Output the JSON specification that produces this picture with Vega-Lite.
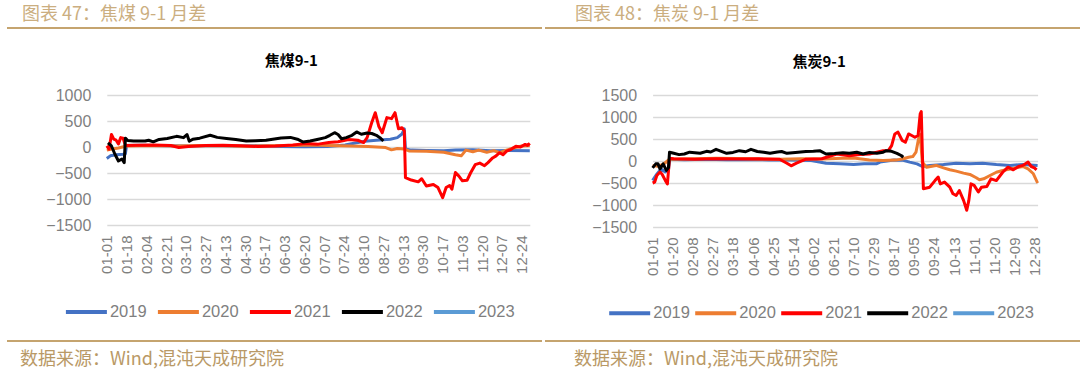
{
  "$schema": "https://vega.github.io/schema/vega-lite/v6.json",
  "background": "white",
  "padding": {"left": 7, "top": 5, "right": 0, "bottom": 0},
  "spacing": 12,
  "datasets": {
    "coal": [
      {"year":"2019","date":"2019-01-01","value":-220},{"year":"2019","date":"2019-01-04","value":-170},{"year":"2019","date":"2019-01-09","value":-150},{"year":"2019","date":"2019-01-15","value":-140},{"year":"2019","date":"2019-01-17","value":-130},{"year":"2019","date":"2019-01-18","value":30},{"year":"2019","date":"2019-01-31","value":35},{"year":"2019","date":"2019-02-20","value":25},{"year":"2019","date":"2019-03-12","value":20},{"year":"2019","date":"2019-04-01","value":30},{"year":"2019","date":"2019-04-21","value":20},{"year":"2019","date":"2019-05-11","value":25},{"year":"2019","date":"2019-05-31","value":10},{"year":"2019","date":"2019-06-20","value":5},{"year":"2019","date":"2019-07-10","value":10},{"year":"2019","date":"2019-07-25","value":40},{"year":"2019","date":"2019-08-04","value":80},{"year":"2019","date":"2019-08-11","value":110},{"year":"2019","date":"2019-08-21","value":130},{"year":"2019","date":"2019-09-02","value":150},{"year":"2019","date":"2019-09-08","value":180},{"year":"2019","date":"2019-09-12","value":250},{"year":"2019","date":"2019-09-14","value":350},{"year":"2019","date":"2019-09-15","value":-40},{"year":"2019","date":"2019-09-20","value":-60},{"year":"2019","date":"2019-10-03","value":-65},{"year":"2019","date":"2019-10-18","value":-70},{"year":"2019","date":"2019-10-28","value":-60},{"year":"2019","date":"2019-11-12","value":-55},{"year":"2019","date":"2019-11-27","value":-70},{"year":"2019","date":"2019-12-12","value":-65},{"year":"2019","date":"2019-12-31","value":-70},
      {"year":"2020","date":"2019-01-01","value":-60},{"year":"2020","date":"2019-01-06","value":-40},{"year":"2020","date":"2019-01-11","value":-20},{"year":"2020","date":"2019-01-18","value":20},{"year":"2020","date":"2019-02-10","value":30},{"year":"2020","date":"2019-03-02","value":20},{"year":"2020","date":"2019-03-22","value":30},{"year":"2020","date":"2019-04-11","value":25},{"year":"2020","date":"2019-05-01","value":15},{"year":"2020","date":"2019-05-21","value":25},{"year":"2020","date":"2019-06-10","value":30},{"year":"2020","date":"2019-06-25","value":40},{"year":"2020","date":"2019-07-10","value":30},{"year":"2020","date":"2019-07-30","value":20},{"year":"2020","date":"2019-08-14","value":10},{"year":"2020","date":"2019-08-29","value":-10},{"year":"2020","date":"2019-09-03","value":-55},{"year":"2020","date":"2019-09-08","value":-30},{"year":"2020","date":"2019-09-14","value":-40},{"year":"2020","date":"2019-09-18","value":-75},{"year":"2020","date":"2019-10-03","value":-80},{"year":"2020","date":"2019-10-18","value":-100},{"year":"2020","date":"2019-10-28","value":-150},{"year":"2020","date":"2019-11-02","value":-170},{"year":"2020","date":"2019-11-06","value":-60},{"year":"2020","date":"2019-11-12","value":-90},{"year":"2020","date":"2019-11-17","value":-60},{"year":"2020","date":"2019-11-24","value":-100},{"year":"2020","date":"2019-11-30","value":-70},{"year":"2020","date":"2019-12-05","value":-110},{"year":"2020","date":"2019-12-11","value":-60},{"year":"2020","date":"2019-12-17","value":-20},{"year":"2020","date":"2019-12-24","value":20},{"year":"2020","date":"2019-12-31","value":30},
      {"year":"2021","date":"2019-01-01","value":20},{"year":"2021","date":"2019-01-03","value":-40},{"year":"2021","date":"2019-01-05","value":240},{"year":"2021","date":"2019-01-07","value":150},{"year":"2021","date":"2019-01-09","value":130},{"year":"2021","date":"2019-01-11","value":60},{"year":"2021","date":"2019-01-13","value":180},{"year":"2021","date":"2019-01-15","value":170},{"year":"2021","date":"2019-01-17","value":30},{"year":"2021","date":"2019-01-26","value":35},{"year":"2021","date":"2019-02-10","value":40},{"year":"2021","date":"2019-02-25","value":30},{"year":"2021","date":"2019-03-04","value":-10},{"year":"2021","date":"2019-03-12","value":10},{"year":"2021","date":"2019-03-27","value":30},{"year":"2021","date":"2019-04-11","value":35},{"year":"2021","date":"2019-04-26","value":25},{"year":"2021","date":"2019-05-11","value":10},{"year":"2021","date":"2019-05-26","value":20},{"year":"2021","date":"2019-06-10","value":40},{"year":"2021","date":"2019-06-21","value":65},{"year":"2021","date":"2019-07-02","value":55},{"year":"2021","date":"2019-07-11","value":85},{"year":"2021","date":"2019-07-19","value":100},{"year":"2021","date":"2019-07-28","value":145},{"year":"2021","date":"2019-08-05","value":130},{"year":"2021","date":"2019-08-10","value":85},{"year":"2021","date":"2019-08-13","value":180},{"year":"2021","date":"2019-08-17","value":470},{"year":"2021","date":"2019-08-20","value":660},{"year":"2021","date":"2019-08-23","value":400},{"year":"2021","date":"2019-08-26","value":275},{"year":"2021","date":"2019-08-30","value":565},{"year":"2021","date":"2019-09-03","value":545},{"year":"2021","date":"2019-09-06","value":660},{"year":"2021","date":"2019-09-09","value":350},{"year":"2021","date":"2019-09-12","value":370},{"year":"2021","date":"2019-09-14","value":310},{"year":"2021","date":"2019-09-15","value":-590},{"year":"2021","date":"2019-09-20","value":-635},{"year":"2021","date":"2019-09-26","value":-670},{"year":"2021","date":"2019-09-29","value":-610},{"year":"2021","date":"2019-10-03","value":-750},{"year":"2021","date":"2019-10-09","value":-720},{"year":"2021","date":"2019-10-13","value":-780},{"year":"2021","date":"2019-10-17","value":-975},{"year":"2021","date":"2019-10-20","value":-780},{"year":"2021","date":"2019-10-23","value":-740},{"year":"2021","date":"2019-10-25","value":-810},{"year":"2021","date":"2019-10-28","value":-490},{"year":"2021","date":"2019-10-31","value":-560},{"year":"2021","date":"2019-11-03","value":-650},{"year":"2021","date":"2019-11-07","value":-640},{"year":"2021","date":"2019-11-10","value":-500},{"year":"2021","date":"2019-11-14","value":-340},{"year":"2021","date":"2019-11-18","value":-310},{"year":"2021","date":"2019-11-22","value":-360},{"year":"2021","date":"2019-11-25","value":-300},{"year":"2021","date":"2019-11-29","value":-210},{"year":"2021","date":"2019-12-02","value":-170},{"year":"2021","date":"2019-12-05","value":-110},{"year":"2021","date":"2019-12-08","value":-150},{"year":"2021","date":"2019-12-11","value":-80},{"year":"2021","date":"2019-12-15","value":-45},{"year":"2021","date":"2019-12-19","value":15},{"year":"2021","date":"2019-12-23","value":0},{"year":"2021","date":"2019-12-27","value":50},{"year":"2021","date":"2019-12-29","value":30},{"year":"2021","date":"2019-12-31","value":70},
      {"year":"2022","date":"2019-01-02","value":80},{"year":"2022","date":"2019-01-05","value":20},{"year":"2022","date":"2019-01-08","value":-140},{"year":"2022","date":"2019-01-11","value":-270},{"year":"2022","date":"2019-01-14","value":-230},{"year":"2022","date":"2019-01-16","value":-300},{"year":"2022","date":"2019-01-17","value":170},{"year":"2022","date":"2019-01-19","value":125},{"year":"2022","date":"2019-01-24","value":115},{"year":"2022","date":"2019-02-03","value":115},{"year":"2022","date":"2019-02-06","value":130},{"year":"2022","date":"2019-02-10","value":100},{"year":"2022","date":"2019-02-15","value":145},{"year":"2022","date":"2019-02-22","value":165},{"year":"2022","date":"2019-03-02","value":205},{"year":"2022","date":"2019-03-08","value":180},{"year":"2022","date":"2019-03-11","value":240},{"year":"2022","date":"2019-03-13","value":110},{"year":"2022","date":"2019-03-16","value":150},{"year":"2022","date":"2019-03-22","value":170},{"year":"2022","date":"2019-03-31","value":225},{"year":"2022","date":"2019-04-06","value":185},{"year":"2022","date":"2019-04-14","value":165},{"year":"2022","date":"2019-04-22","value":145},{"year":"2022","date":"2019-05-01","value":115},{"year":"2022","date":"2019-05-09","value":120},{"year":"2022","date":"2019-05-18","value":130},{"year":"2022","date":"2019-05-31","value":175},{"year":"2022","date":"2019-06-08","value":185},{"year":"2022","date":"2019-06-14","value":150},{"year":"2022","date":"2019-06-19","value":95},{"year":"2022","date":"2019-06-25","value":115},{"year":"2022","date":"2019-07-02","value":150},{"year":"2022","date":"2019-07-08","value":180},{"year":"2022","date":"2019-07-12","value":225},{"year":"2022","date":"2019-07-16","value":275},{"year":"2022","date":"2019-07-19","value":240},{"year":"2022","date":"2019-07-22","value":160},{"year":"2022","date":"2019-07-26","value":180},{"year":"2022","date":"2019-07-31","value":225},{"year":"2022","date":"2019-08-04","value":290},{"year":"2022","date":"2019-08-08","value":245},{"year":"2022","date":"2019-08-13","value":270},{"year":"2022","date":"2019-08-17","value":260},{"year":"2022","date":"2019-08-21","value":225},{"year":"2022","date":"2019-08-24","value":180},{"year":"2022","date":"2019-08-27","value":115}
    ],
    "coke": [
      {"year":"2019","date":"2019-01-01","value":-440},{"year":"2019","date":"2019-01-05","value":-300},{"year":"2019","date":"2019-01-09","value":-180},{"year":"2019","date":"2019-01-13","value":-250},{"year":"2019","date":"2019-01-16","value":-200},{"year":"2019","date":"2019-01-17","value":40},{"year":"2019","date":"2019-01-31","value":30},{"year":"2019","date":"2019-02-20","value":40},{"year":"2019","date":"2019-03-12","value":30},{"year":"2019","date":"2019-04-01","value":35},{"year":"2019","date":"2019-04-21","value":25},{"year":"2019","date":"2019-05-11","value":20},{"year":"2019","date":"2019-05-31","value":10},{"year":"2019","date":"2019-06-14","value":-50},{"year":"2019","date":"2019-06-27","value":-65},{"year":"2019","date":"2019-07-10","value":-80},{"year":"2019","date":"2019-07-20","value":-65},{"year":"2019","date":"2019-08-01","value":-60},{"year":"2019","date":"2019-08-04","value":-25},{"year":"2019","date":"2019-08-17","value":25},{"year":"2019","date":"2019-08-26","value":15},{"year":"2019","date":"2019-09-01","value":-25},{"year":"2019","date":"2019-09-08","value":-65},{"year":"2019","date":"2019-09-13","value":-125},{"year":"2019","date":"2019-09-20","value":-100},{"year":"2019","date":"2019-10-03","value":-80},{"year":"2019","date":"2019-10-15","value":-50},{"year":"2019","date":"2019-10-28","value":-65},{"year":"2019","date":"2019-11-09","value":-50},{"year":"2019","date":"2019-11-22","value":-80},{"year":"2019","date":"2019-12-05","value":-100},{"year":"2019","date":"2019-12-17","value":-80},{"year":"2019","date":"2019-12-31","value":-100},
      {"year":"2020","date":"2019-01-01","value":-100},{"year":"2020","date":"2019-01-06","value":-120},{"year":"2020","date":"2019-01-11","value":-80},{"year":"2020","date":"2019-01-17","value":40},{"year":"2020","date":"2019-02-10","value":50},{"year":"2020","date":"2019-03-02","value":60},{"year":"2020","date":"2019-03-22","value":55},{"year":"2020","date":"2019-04-11","value":45},{"year":"2020","date":"2019-05-01","value":40},{"year":"2020","date":"2019-05-21","value":50},{"year":"2020","date":"2019-06-10","value":45},{"year":"2020","date":"2019-06-30","value":60},{"year":"2020","date":"2019-07-10","value":70},{"year":"2020","date":"2019-07-25","value":25},{"year":"2020","date":"2019-08-07","value":10},{"year":"2020","date":"2019-08-19","value":20},{"year":"2020","date":"2019-08-26","value":50},{"year":"2020","date":"2019-08-31","value":85},{"year":"2020","date":"2019-09-04","value":100},{"year":"2020","date":"2019-09-07","value":200},{"year":"2020","date":"2019-09-09","value":450},{"year":"2020","date":"2019-09-10","value":550},{"year":"2020","date":"2019-09-11","value":600},{"year":"2020","date":"2019-09-13","value":-30},{"year":"2020","date":"2019-09-17","value":-140},{"year":"2020","date":"2019-09-26","value":-100},{"year":"2020","date":"2019-10-03","value":-155},{"year":"2020","date":"2019-10-09","value":-200},{"year":"2020","date":"2019-10-15","value":-230},{"year":"2020","date":"2019-10-22","value":-275},{"year":"2020","date":"2019-10-28","value":-305},{"year":"2020","date":"2019-11-03","value":-380},{"year":"2020","date":"2019-11-06","value":-425},{"year":"2020","date":"2019-11-10","value":-405},{"year":"2020","date":"2019-11-16","value":-330},{"year":"2020","date":"2019-11-22","value":-255},{"year":"2020","date":"2019-11-28","value":-215},{"year":"2020","date":"2019-12-05","value":-180},{"year":"2020","date":"2019-12-11","value":-155},{"year":"2020","date":"2019-12-17","value":-125},{"year":"2020","date":"2019-12-22","value":-180},{"year":"2020","date":"2019-12-27","value":-290},{"year":"2020","date":"2019-12-31","value":-500},
      {"year":"2021","date":"2019-01-01","value":-500},{"year":"2021","date":"2019-01-03","value":-480},{"year":"2021","date":"2019-01-05","value":-330},{"year":"2021","date":"2019-01-08","value":-250},{"year":"2021","date":"2019-01-10","value":-300},{"year":"2021","date":"2019-01-13","value":-440},{"year":"2021","date":"2019-01-15","value":-520},{"year":"2021","date":"2019-01-17","value":60},{"year":"2021","date":"2019-01-21","value":50},{"year":"2021","date":"2019-02-10","value":40},{"year":"2021","date":"2019-03-02","value":50},{"year":"2021","date":"2019-03-22","value":45},{"year":"2021","date":"2019-04-11","value":50},{"year":"2021","date":"2019-05-01","value":40},{"year":"2021","date":"2019-05-08","value":-50},{"year":"2021","date":"2019-05-12","value":-110},{"year":"2021","date":"2019-05-17","value":-50},{"year":"2021","date":"2019-05-26","value":40},{"year":"2021","date":"2019-06-10","value":50},{"year":"2021","date":"2019-06-24","value":160},{"year":"2021","date":"2019-07-06","value":120},{"year":"2021","date":"2019-07-16","value":145},{"year":"2021","date":"2019-07-25","value":160},{"year":"2021","date":"2019-08-01","value":200},{"year":"2021","date":"2019-08-07","value":235},{"year":"2021","date":"2019-08-12","value":240},{"year":"2021","date":"2019-08-15","value":350},{"year":"2021","date":"2019-08-18","value":615},{"year":"2021","date":"2019-08-21","value":655},{"year":"2021","date":"2019-08-25","value":465},{"year":"2021","date":"2019-08-28","value":425},{"year":"2021","date":"2019-08-31","value":615},{"year":"2021","date":"2019-09-03","value":580},{"year":"2021","date":"2019-09-06","value":540},{"year":"2021","date":"2019-09-09","value":580},{"year":"2021","date":"2019-09-11","value":1070},{"year":"2021","date":"2019-09-12","value":1125},{"year":"2021","date":"2019-09-14","value":-630},{"year":"2021","date":"2019-09-20","value":-595},{"year":"2021","date":"2019-09-25","value":-445},{"year":"2021","date":"2019-09-28","value":-365},{"year":"2021","date":"2019-09-30","value":-520},{"year":"2021","date":"2019-10-04","value":-480},{"year":"2021","date":"2019-10-09","value":-595},{"year":"2021","date":"2019-10-12","value":-745},{"year":"2021","date":"2019-10-15","value":-785},{"year":"2021","date":"2019-10-18","value":-670},{"year":"2021","date":"2019-10-22","value":-895},{"year":"2021","date":"2019-10-25","value":-1120},{"year":"2021","date":"2019-10-27","value":-895},{"year":"2021","date":"2019-10-29","value":-520},{"year":"2021","date":"2019-11-01","value":-555},{"year":"2021","date":"2019-11-05","value":-705},{"year":"2021","date":"2019-11-08","value":-595},{"year":"2021","date":"2019-11-13","value":-580},{"year":"2021","date":"2019-11-17","value":-405},{"year":"2021","date":"2019-11-22","value":-445},{"year":"2021","date":"2019-11-28","value":-255},{"year":"2021","date":"2019-12-03","value":-140},{"year":"2021","date":"2019-12-08","value":-200},{"year":"2021","date":"2019-12-13","value":-125},{"year":"2021","date":"2019-12-17","value":-100},{"year":"2021","date":"2019-12-22","value":-25},{"year":"2021","date":"2019-12-25","value":-125},{"year":"2021","date":"2019-12-28","value":-155},{"year":"2021","date":"2019-12-30","value":-200},
      {"year":"2022","date":"2019-01-01","value":-155},{"year":"2022","date":"2019-01-04","value":-65},{"year":"2022","date":"2019-01-06","value":-60},{"year":"2022","date":"2019-01-08","value":-180},{"year":"2022","date":"2019-01-11","value":-65},{"year":"2022","date":"2019-01-14","value":-215},{"year":"2022","date":"2019-01-16","value":-150},{"year":"2022","date":"2019-01-17","value":200},{"year":"2022","date":"2019-01-21","value":175},{"year":"2022","date":"2019-01-26","value":145},{"year":"2022","date":"2019-01-31","value":160},{"year":"2022","date":"2019-02-05","value":200},{"year":"2022","date":"2019-02-10","value":190},{"year":"2022","date":"2019-02-15","value":175},{"year":"2022","date":"2019-02-21","value":220},{"year":"2022","date":"2019-02-25","value":205},{"year":"2022","date":"2019-03-02","value":265},{"year":"2022","date":"2019-03-07","value":220},{"year":"2022","date":"2019-03-12","value":175},{"year":"2022","date":"2019-03-18","value":195},{"year":"2022","date":"2019-03-24","value":235},{"year":"2022","date":"2019-03-30","value":210},{"year":"2022","date":"2019-04-04","value":265},{"year":"2022","date":"2019-04-10","value":215},{"year":"2022","date":"2019-04-16","value":200},{"year":"2022","date":"2019-04-22","value":175},{"year":"2022","date":"2019-04-29","value":205},{"year":"2022","date":"2019-05-03","value":215},{"year":"2022","date":"2019-05-08","value":175},{"year":"2022","date":"2019-05-16","value":195},{"year":"2022","date":"2019-05-26","value":215},{"year":"2022","date":"2019-06-02","value":220},{"year":"2022","date":"2019-06-08","value":235},{"year":"2022","date":"2019-06-14","value":160},{"year":"2022","date":"2019-06-22","value":170},{"year":"2022","date":"2019-06-30","value":190},{"year":"2022","date":"2019-07-06","value":175},{"year":"2022","date":"2019-07-13","value":200},{"year":"2022","date":"2019-07-19","value":160},{"year":"2022","date":"2019-07-25","value":195},{"year":"2022","date":"2019-08-01","value":175},{"year":"2022","date":"2019-08-07","value":200},{"year":"2022","date":"2019-08-10","value":235},{"year":"2022","date":"2019-08-15","value":220},{"year":"2022","date":"2019-08-20","value":175},{"year":"2022","date":"2019-08-24","value":125},{"year":"2022","date":"2019-08-26","value":85}
    ]
  },
  "vconcat": [
    {
      "spacing": 19,
      "vconcat": [
        {
          "spacing": 3,
          "hconcat": [
            {
              "width": 533, "height": 0.01,
              "data": {"values": [{}]},
              "mark": {"type": "text", "text": ""},
              "view": {"stroke": "#C5A46F", "strokeWidth": 2},
              "title": {"text": "图表 47：焦煤 9-1 月差", "orient": "top", "anchor": "start", "dx": 14, "offset": -2, "fontSize": 18, "fontWeight": "normal", "font": "Noto Sans CJK SC", "color": "#CBAE80"}
            },
            {
              "width": 537, "height": 0.01,
              "data": {"values": [{}]},
              "mark": {"type": "text", "text": ""},
              "view": {"stroke": "#C5A46F", "strokeWidth": 2},
              "title": {"text": "图表 48：焦炭 9-1 月差", "orient": "top", "anchor": "start", "dx": 29, "offset": -2, "fontSize": 18, "fontWeight": "normal", "font": "Noto Sans CJK SC", "color": "#CBAE80"}
            }
          ]
        },
        {
          "spacing": 36.8,
          "hconcat": [
            {
              "width": 1, "height": 1,
              "data": {"values": [{}]},
              "mark": {"type": "text", "text": ""}
            },
            {
              "spacing": 59.8,
              "hconcat": [
                {
                  "width": 423, "height": 130,
                  "data": {"name": "coal"},
                  "title": {"text": "焦煤9-1", "anchor": "middle", "frame": "group", "dx": -27, "offset": 18, "fontSize": 15, "fontWeight": "bold", "font": "Noto Sans CJK SC", "color": "#000000"},
                  "mark": {"type": "line", "strokeWidth": 3, "strokeJoin": "round"},
                  "encoding": {
                    "x": {
                      "field": "date", "type": "temporal",
                      "scale": {"type": "utc", "domain": [{"year": 2019, "month": 1, "date": 1, "utc": true}, {"year": 2019, "month": 12, "date": 31, "utc": true}]},
                      "axis": {
                        "values": [
                          {"year": 2019, "month": 1, "date": 1, "utc": true}, {"year": 2019, "month": 1, "date": 18, "utc": true}, {"year": 2019, "month": 2, "date": 4, "utc": true}, {"year": 2019, "month": 2, "date": 21, "utc": true}, {"year": 2019, "month": 3, "date": 10, "utc": true}, {"year": 2019, "month": 3, "date": 27, "utc": true}, {"year": 2019, "month": 4, "date": 13, "utc": true}, {"year": 2019, "month": 4, "date": 30, "utc": true}, {"year": 2019, "month": 5, "date": 17, "utc": true}, {"year": 2019, "month": 6, "date": 3, "utc": true}, {"year": 2019, "month": 6, "date": 20, "utc": true}, {"year": 2019, "month": 7, "date": 7, "utc": true}, {"year": 2019, "month": 7, "date": 24, "utc": true}, {"year": 2019, "month": 8, "date": 10, "utc": true}, {"year": 2019, "month": 8, "date": 27, "utc": true}, {"year": 2019, "month": 9, "date": 13, "utc": true}, {"year": 2019, "month": 9, "date": 30, "utc": true}, {"year": 2019, "month": 10, "date": 17, "utc": true}, {"year": 2019, "month": 11, "date": 3, "utc": true}, {"year": 2019, "month": 11, "date": 20, "utc": true}, {"year": 2019, "month": 12, "date": 7, "utc": true}, {"year": 2019, "month": 12, "date": 24, "utc": true}
                        ],
                        "format": "%m-%d", "labelAngle": -90, "labelFontSize": 15, "labelPadding": 10, "labelOverlap": false, "labelFlush": false, "grid": false, "title": null
                      }
                    },
                    "y": {
                      "field": "value", "type": "quantitative",
                      "scale": {"domain": [-1500, 1000], "nice": false},
                      "axis": {"values": [-1500, -1000, -500, 0, 500, 1000], "format": "d", "labelFontSize": 16, "labelPadding": 16, "grid": true, "title": null}
                    },
                    "color": {
                      "field": "year", "type": "nominal",
                      "scale": {"domain": ["2019", "2020", "2021", "2022", "2023"], "range": ["#4472C4", "#ED7D31", "#FF0000", "#000000", "#5B9BD5"]},
                      "legend": {"orient": "none", "legendX": -42.9, "legendY": 194.4, "direction": "horizontal", "columns": 5, "title": null, "symbolType": "stroke", "symbolSize": 1681, "symbolStrokeWidth": 4, "labelFont": "Liberation Sans", "labelFontSize": 16.5, "labelOffset": 1, "columnPadding": 3, "labelColor": "#7F7F7F", "padding": 0}
                    }
                  }
                },
                {
                  "width": 385, "height": 132,
                  "data": {"name": "coke"},
                  "title": {"text": "焦炭9-1", "anchor": "middle", "frame": "group", "dx": -26, "offset": 17, "fontSize": 15, "fontWeight": "bold", "font": "Noto Sans CJK SC", "color": "#000000"},
                  "mark": {"type": "line", "strokeWidth": 3, "strokeJoin": "round"},
                  "encoding": {
                    "x": {
                      "field": "date", "type": "temporal",
                      "scale": {"type": "utc", "domain": [{"year": 2019, "month": 1, "date": 1, "utc": true}, {"year": 2019, "month": 12, "date": 31, "utc": true}]},
                      "axis": {
                        "values": [
                          {"year": 2019, "month": 1, "date": 1, "utc": true}, {"year": 2019, "month": 1, "date": 20, "utc": true}, {"year": 2019, "month": 2, "date": 8, "utc": true}, {"year": 2019, "month": 2, "date": 27, "utc": true}, {"year": 2019, "month": 3, "date": 18, "utc": true}, {"year": 2019, "month": 4, "date": 6, "utc": true}, {"year": 2019, "month": 4, "date": 25, "utc": true}, {"year": 2019, "month": 5, "date": 14, "utc": true}, {"year": 2019, "month": 6, "date": 2, "utc": true}, {"year": 2019, "month": 6, "date": 21, "utc": true}, {"year": 2019, "month": 7, "date": 10, "utc": true}, {"year": 2019, "month": 7, "date": 29, "utc": true}, {"year": 2019, "month": 8, "date": 17, "utc": true}, {"year": 2019, "month": 9, "date": 5, "utc": true}, {"year": 2019, "month": 9, "date": 24, "utc": true}, {"year": 2019, "month": 10, "date": 13, "utc": true}, {"year": 2019, "month": 11, "date": 1, "utc": true}, {"year": 2019, "month": 11, "date": 20, "utc": true}, {"year": 2019, "month": 12, "date": 9, "utc": true}, {"year": 2019, "month": 12, "date": 28, "utc": true}
                        ],
                        "format": "%m-%d", "labelAngle": -90, "labelFontSize": 15, "labelPadding": 10, "labelOverlap": false, "labelFlush": false, "grid": false, "title": null
                      }
                    },
                    "y": {
                      "field": "value", "type": "quantitative",
                      "scale": {"domain": [-1500, 1500], "nice": false},
                      "axis": {"values": [-1500, -1000, -500, 0, 500, 1000, 1500], "format": "d", "labelFontSize": 16, "labelPadding": 16, "grid": true, "title": null}
                    },
                    "color": {
                      "field": "year", "type": "nominal",
                      "scale": {"domain": ["2019", "2020", "2021", "2022", "2023"], "range": ["#4472C4", "#ED7D31", "#FF0000", "#000000", "#5B9BD5"]},
                      "legend": {"orient": "none", "legendX": -45.4, "legendY": 195.8, "direction": "horizontal", "columns": 5, "title": null, "symbolType": "stroke", "symbolSize": 1681, "symbolStrokeWidth": 4, "labelFont": "Liberation Sans", "labelFontSize": 16.5, "labelOffset": 1, "columnPadding": -3, "labelColor": "#7F7F7F", "padding": 0}
                    }
                  }
                }
              ],
              "resolve": {"scale": {"color": "independent"}}
            }
          ]
        }
      ]
    },
    {
      "spacing": 3,
      "hconcat": [
        {
          "width": 533, "height": 0.01,
          "data": {"values": [{}]},
          "mark": {"type": "text", "text": ""},
          "view": {"stroke": "#C5A46F", "strokeWidth": 2},
          "title": {"text": "数据来源：Wind,混沌天成研究院", "orient": "bottom", "anchor": "start", "dx": 12, "offset": 5, "fontSize": 18, "fontWeight": "normal", "font": "Noto Sans CJK SC", "color": "#B99966"}
        },
        {
          "width": 537, "height": 0.01,
          "data": {"values": [{}]},
          "mark": {"type": "text", "text": ""},
          "view": {"stroke": "#C5A46F", "strokeWidth": 2},
          "title": {"text": "数据来源：Wind,混沌天成研究院", "orient": "bottom", "anchor": "start", "dx": 28, "offset": 5, "fontSize": 18, "fontWeight": "normal", "font": "Noto Sans CJK SC", "color": "#B99966"}
        }
      ]
    }
  ],
  "config": {
    "view": {"stroke": null},
    "font": "Liberation Sans",
    "axis": {"labelFont": "Liberation Sans", "labelColor": "#7F7F7F", "gridColor": "#D9D9D9", "gridWidth": 1.5, "domain": false, "ticks": false},
    "legend": {"labelFont": "Liberation Sans"}
  }
}
